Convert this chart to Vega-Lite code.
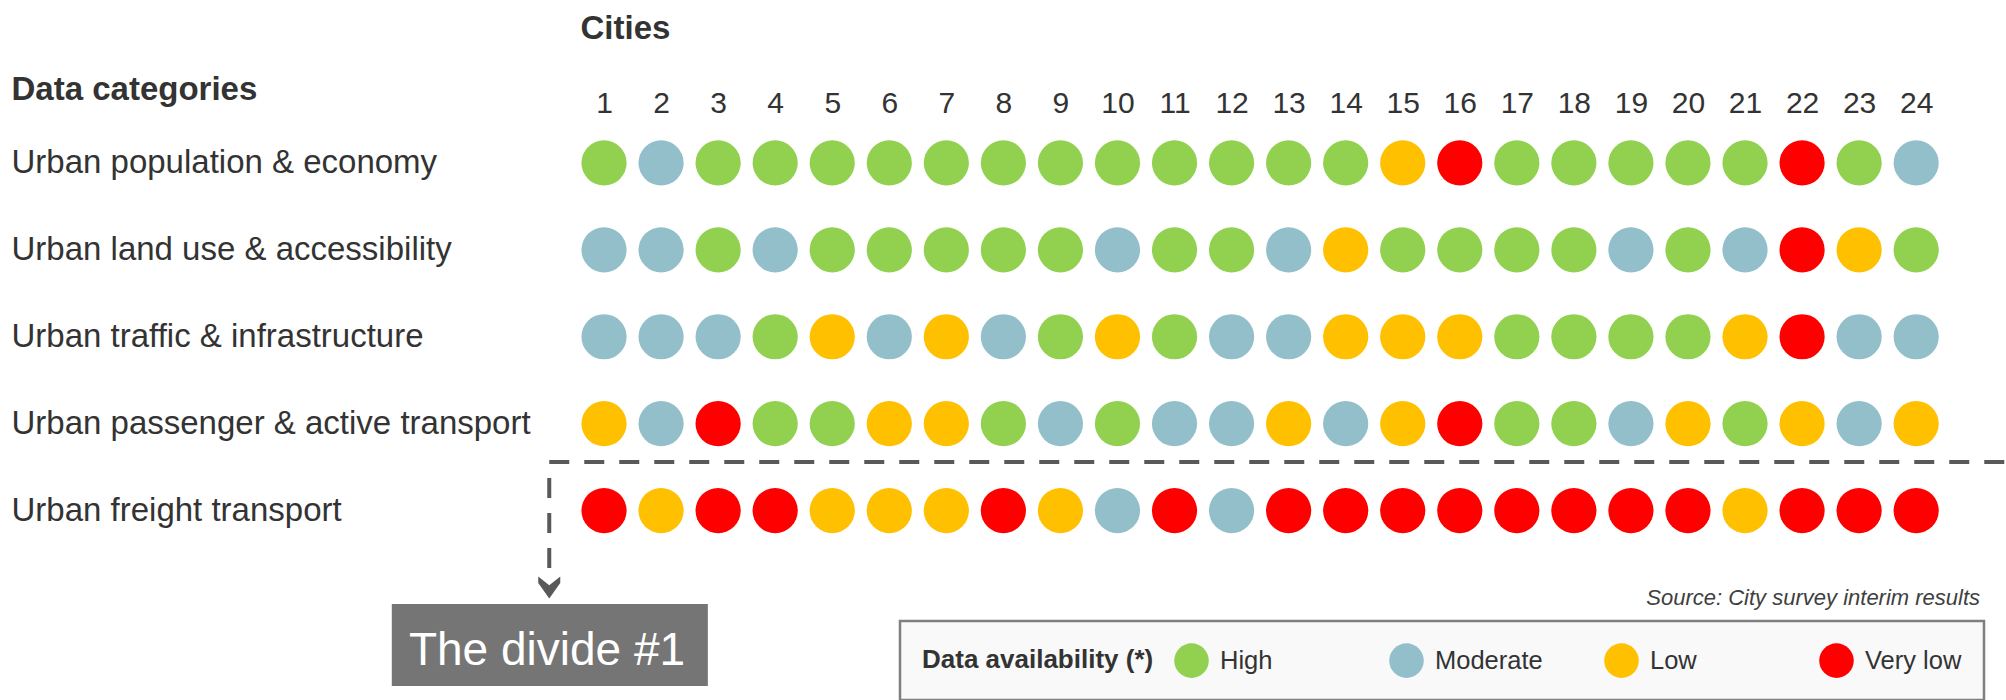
{
  "$schema": "https://vega.github.io/schema/vega-lite/v6.json",
  "autosize": {"type": "none"},
  "padding": {"left": 575.5, "top": 119.5, "right": 61.3, "bottom": 146},
  "width": 1369.2,
  "height": 434.5,
  "background": "#ffffff",
  "config": {
    "view": {"stroke": null},
    "font": "Liberation Sans, Arial, sans-serif"
  },
  "data": {"values": [
    {"category":"Urban population & economy","city":1,"availability":"High"},
    {"category":"Urban population & economy","city":2,"availability":"Moderate"},
    {"category":"Urban population & economy","city":3,"availability":"High"},
    {"category":"Urban population & economy","city":4,"availability":"High"},
    {"category":"Urban population & economy","city":5,"availability":"High"},
    {"category":"Urban population & economy","city":6,"availability":"High"},
    {"category":"Urban population & economy","city":7,"availability":"High"},
    {"category":"Urban population & economy","city":8,"availability":"High"},
    {"category":"Urban population & economy","city":9,"availability":"High"},
    {"category":"Urban population & economy","city":10,"availability":"High"},
    {"category":"Urban population & economy","city":11,"availability":"High"},
    {"category":"Urban population & economy","city":12,"availability":"High"},
    {"category":"Urban population & economy","city":13,"availability":"High"},
    {"category":"Urban population & economy","city":14,"availability":"High"},
    {"category":"Urban population & economy","city":15,"availability":"Low"},
    {"category":"Urban population & economy","city":16,"availability":"Very low"},
    {"category":"Urban population & economy","city":17,"availability":"High"},
    {"category":"Urban population & economy","city":18,"availability":"High"},
    {"category":"Urban population & economy","city":19,"availability":"High"},
    {"category":"Urban population & economy","city":20,"availability":"High"},
    {"category":"Urban population & economy","city":21,"availability":"High"},
    {"category":"Urban population & economy","city":22,"availability":"Very low"},
    {"category":"Urban population & economy","city":23,"availability":"High"},
    {"category":"Urban population & economy","city":24,"availability":"Moderate"},
    {"category":"Urban land use & accessibility","city":1,"availability":"Moderate"},
    {"category":"Urban land use & accessibility","city":2,"availability":"Moderate"},
    {"category":"Urban land use & accessibility","city":3,"availability":"High"},
    {"category":"Urban land use & accessibility","city":4,"availability":"Moderate"},
    {"category":"Urban land use & accessibility","city":5,"availability":"High"},
    {"category":"Urban land use & accessibility","city":6,"availability":"High"},
    {"category":"Urban land use & accessibility","city":7,"availability":"High"},
    {"category":"Urban land use & accessibility","city":8,"availability":"High"},
    {"category":"Urban land use & accessibility","city":9,"availability":"High"},
    {"category":"Urban land use & accessibility","city":10,"availability":"Moderate"},
    {"category":"Urban land use & accessibility","city":11,"availability":"High"},
    {"category":"Urban land use & accessibility","city":12,"availability":"High"},
    {"category":"Urban land use & accessibility","city":13,"availability":"Moderate"},
    {"category":"Urban land use & accessibility","city":14,"availability":"Low"},
    {"category":"Urban land use & accessibility","city":15,"availability":"High"},
    {"category":"Urban land use & accessibility","city":16,"availability":"High"},
    {"category":"Urban land use & accessibility","city":17,"availability":"High"},
    {"category":"Urban land use & accessibility","city":18,"availability":"High"},
    {"category":"Urban land use & accessibility","city":19,"availability":"Moderate"},
    {"category":"Urban land use & accessibility","city":20,"availability":"High"},
    {"category":"Urban land use & accessibility","city":21,"availability":"Moderate"},
    {"category":"Urban land use & accessibility","city":22,"availability":"Very low"},
    {"category":"Urban land use & accessibility","city":23,"availability":"Low"},
    {"category":"Urban land use & accessibility","city":24,"availability":"High"},
    {"category":"Urban traffic & infrastructure","city":1,"availability":"Moderate"},
    {"category":"Urban traffic & infrastructure","city":2,"availability":"Moderate"},
    {"category":"Urban traffic & infrastructure","city":3,"availability":"Moderate"},
    {"category":"Urban traffic & infrastructure","city":4,"availability":"High"},
    {"category":"Urban traffic & infrastructure","city":5,"availability":"Low"},
    {"category":"Urban traffic & infrastructure","city":6,"availability":"Moderate"},
    {"category":"Urban traffic & infrastructure","city":7,"availability":"Low"},
    {"category":"Urban traffic & infrastructure","city":8,"availability":"Moderate"},
    {"category":"Urban traffic & infrastructure","city":9,"availability":"High"},
    {"category":"Urban traffic & infrastructure","city":10,"availability":"Low"},
    {"category":"Urban traffic & infrastructure","city":11,"availability":"High"},
    {"category":"Urban traffic & infrastructure","city":12,"availability":"Moderate"},
    {"category":"Urban traffic & infrastructure","city":13,"availability":"Moderate"},
    {"category":"Urban traffic & infrastructure","city":14,"availability":"Low"},
    {"category":"Urban traffic & infrastructure","city":15,"availability":"Low"},
    {"category":"Urban traffic & infrastructure","city":16,"availability":"Low"},
    {"category":"Urban traffic & infrastructure","city":17,"availability":"High"},
    {"category":"Urban traffic & infrastructure","city":18,"availability":"High"},
    {"category":"Urban traffic & infrastructure","city":19,"availability":"High"},
    {"category":"Urban traffic & infrastructure","city":20,"availability":"High"},
    {"category":"Urban traffic & infrastructure","city":21,"availability":"Low"},
    {"category":"Urban traffic & infrastructure","city":22,"availability":"Very low"},
    {"category":"Urban traffic & infrastructure","city":23,"availability":"Moderate"},
    {"category":"Urban traffic & infrastructure","city":24,"availability":"Moderate"},
    {"category":"Urban passenger & active transport","city":1,"availability":"Low"},
    {"category":"Urban passenger & active transport","city":2,"availability":"Moderate"},
    {"category":"Urban passenger & active transport","city":3,"availability":"Very low"},
    {"category":"Urban passenger & active transport","city":4,"availability":"High"},
    {"category":"Urban passenger & active transport","city":5,"availability":"High"},
    {"category":"Urban passenger & active transport","city":6,"availability":"Low"},
    {"category":"Urban passenger & active transport","city":7,"availability":"Low"},
    {"category":"Urban passenger & active transport","city":8,"availability":"High"},
    {"category":"Urban passenger & active transport","city":9,"availability":"Moderate"},
    {"category":"Urban passenger & active transport","city":10,"availability":"High"},
    {"category":"Urban passenger & active transport","city":11,"availability":"Moderate"},
    {"category":"Urban passenger & active transport","city":12,"availability":"Moderate"},
    {"category":"Urban passenger & active transport","city":13,"availability":"Low"},
    {"category":"Urban passenger & active transport","city":14,"availability":"Moderate"},
    {"category":"Urban passenger & active transport","city":15,"availability":"Low"},
    {"category":"Urban passenger & active transport","city":16,"availability":"Very low"},
    {"category":"Urban passenger & active transport","city":17,"availability":"High"},
    {"category":"Urban passenger & active transport","city":18,"availability":"High"},
    {"category":"Urban passenger & active transport","city":19,"availability":"Moderate"},
    {"category":"Urban passenger & active transport","city":20,"availability":"Low"},
    {"category":"Urban passenger & active transport","city":21,"availability":"High"},
    {"category":"Urban passenger & active transport","city":22,"availability":"Low"},
    {"category":"Urban passenger & active transport","city":23,"availability":"Moderate"},
    {"category":"Urban passenger & active transport","city":24,"availability":"Low"},
    {"category":"Urban freight transport","city":1,"availability":"Very low"},
    {"category":"Urban freight transport","city":2,"availability":"Low"},
    {"category":"Urban freight transport","city":3,"availability":"Very low"},
    {"category":"Urban freight transport","city":4,"availability":"Very low"},
    {"category":"Urban freight transport","city":5,"availability":"Low"},
    {"category":"Urban freight transport","city":6,"availability":"Low"},
    {"category":"Urban freight transport","city":7,"availability":"Low"},
    {"category":"Urban freight transport","city":8,"availability":"Very low"},
    {"category":"Urban freight transport","city":9,"availability":"Low"},
    {"category":"Urban freight transport","city":10,"availability":"Moderate"},
    {"category":"Urban freight transport","city":11,"availability":"Very low"},
    {"category":"Urban freight transport","city":12,"availability":"Moderate"},
    {"category":"Urban freight transport","city":13,"availability":"Very low"},
    {"category":"Urban freight transport","city":14,"availability":"Very low"},
    {"category":"Urban freight transport","city":15,"availability":"Very low"},
    {"category":"Urban freight transport","city":16,"availability":"Very low"},
    {"category":"Urban freight transport","city":17,"availability":"Very low"},
    {"category":"Urban freight transport","city":18,"availability":"Very low"},
    {"category":"Urban freight transport","city":19,"availability":"Very low"},
    {"category":"Urban freight transport","city":20,"availability":"Very low"},
    {"category":"Urban freight transport","city":21,"availability":"Low"},
    {"category":"Urban freight transport","city":22,"availability":"Very low"},
    {"category":"Urban freight transport","city":23,"availability":"Very low"},
    {"category":"Urban freight transport","city":24,"availability":"Very low"}
  ]},
  "layer": [
    {
      "mark": {"type": "circle", "size": 2043, "opacity": 1},
      "encoding": {
        "x": {
          "field": "city", "type": "quantitative",
          "scale": {"domain": [0.5, 24.5], "nice": false, "zero": false},
          "axis": {
            "orient": "top",
            "values": [1,2,3,4,5,6,7,8,9,10,11,12,13,14,15,16,17,18,19,20,21,22,23,24],
            "format": "d",
            "ticks": false, "tickSize": 0, "domain": false, "grid": false,
            "labelFlush": false, "labelOverlap": false, "labelAngle": 0,
            "labelFontSize": 30, "labelColor": "#333333",
            "labelBaseline": "alphabetic", "labelPadding": 7,
            "title": "Cities",
            "titleX": 4.5, "titleY": -81.2,
            "titleAlign": "left", "titleBaseline": "alphabetic", "titleAngle": 0,
            "titleFontSize": 33, "titleFontWeight": "bold", "titleColor": "#333333"
          }
        },
        "y": {
          "field": "category", "type": "nominal", "sort": null,
          "scale": {
            "type": "band", "paddingInner": 0, "paddingOuter": 0,
            "domain": ["Urban population & economy", "Urban land use & accessibility", "Urban traffic & infrastructure", "Urban passenger & active transport", "Urban freight transport"]
          },
          "axis": {
            "orient": "left",
            "ticks": false, "tickSize": 0, "domain": false, "grid": false,
            "labelAlign": "left", "labelPadding": 564.5, "labelLimit": 700,
            "labelFontSize": 33, "labelColor": "#333333", "labelBaseline": "middle",
            "title": "Data categories",
            "titleX": -564.5, "titleY": -20.5, "titleAngle": 0,
            "titleAlign": "left", "titleBaseline": "alphabetic",
            "titleFontSize": 33, "titleFontWeight": "bold", "titleColor": "#333333",
            "encode": {"labels": {"update": {"dy": {"signal": "datum.value === 'Urban population & economy' ? -7 : datum.value === 'Urban land use & accessibility' ? -4 : datum.value === 'Urban traffic & infrastructure' ? 6 : datum.value === 'Urban passenger & active transport' ? 13 : 5"}}}}
          }
        },
        "color": {
          "field": "availability", "type": "nominal",
          "scale": {"domain": ["High", "Moderate", "Low", "Very low"], "range": ["#92D050", "#93BFCB", "#FFC000", "#FF0000"]},
          "legend": {
            "title": "Data availability (*)",
            "orient": "none", "legendX": 324.5, "legendY": 501.5,
            "direction": "horizontal", "titleOrient": "left",
            "gridAlign": "all", "columnPadding": 61,
            "symbolType": "circle", "symbolSize": 1195, "symbolStrokeWidth": 0, "symbolOpacity": 1,
            "labelFontSize": 25.5, "labelColor": "#333333", "labelOffset": 11, "labelLimit": 300,
            "titleFontSize": 26, "titleFontWeight": "bold", "titleColor": "#333333",
            "titlePadding": 20, "titleLimit": 400,
            "padding": 22, "strokeColor": "#7f7f7f", "fillColor": "#f9f9f9",
            "encode": {"legend": {"update": {"strokeWidth": {"value": 2.5}}}}
          }
        }
      }
    },
    {
      "data": {"values": [{"divide": "The divide #1"}]},
      "mark": {"type": "rule", "color": "#595959", "strokeWidth": 4, "strokeDash": [20, 15], "yOffset": -5},
      "encoding": {
        "x": {"datum": 0.04, "type": "quantitative"},
        "x2": {"datum": 25.6},
        "y": {"datum": "Urban freight transport", "type": "nominal", "bandPosition": 0}
      }
    },
    {
      "data": {"values": [{"divide": "The divide #1"}]},
      "mark": {"type": "rule", "color": "#595959", "strokeWidth": 4, "strokeDash": [20, 15], "yOffset": 11},
      "encoding": {
        "x": {"datum": 0.04, "type": "quantitative"},
        "y": {"datum": "Urban freight transport", "type": "nominal", "bandPosition": 0},
        "y2": {"value": 448.5}
      }
    },
    {
      "data": {"values": [{"divide": "The divide #1"}]},
      "mark": {"type": "point", "filled": true, "opacity": 1, "color": "#595959", "size": 484, "shape": "M-1,-1L0,-0.2L1,-1L1,-0.4L0,1L-1,-0.4Z"},
      "encoding": {
        "x": {"datum": 0.04, "type": "quantitative"},
        "y": {"value": 468}
      }
    },
    {
      "data": {"values": [{"divide": "The divide #1"}]},
      "mark": {"type": "rect", "color": "#757575"},
      "encoding": {
        "x": {"datum": -2.72, "type": "quantitative"},
        "x2": {"datum": 2.82},
        "y": {"value": 484.5},
        "y2": {"value": 566.5}
      }
    },
    {
      "data": {"values": [{"divide": "The divide #1"}]},
      "mark": {"type": "text", "color": "#ffffff", "fontSize": 46, "align": "center", "baseline": "alphabetic"},
      "encoding": {
        "x": {"datum": 0, "type": "quantitative"},
        "y": {"value": 545.5},
        "text": {"field": "divide"}
      }
    },
    {
      "data": {"values": [{"source": "Source: City survey interim results"}]},
      "mark": {"type": "text", "color": "#404040", "fontSize": 22, "fontStyle": "italic", "align": "right", "baseline": "alphabetic"},
      "encoding": {
        "x": {"datum": 25.12, "type": "quantitative"},
        "y": {"value": 485.5},
        "text": {"field": "source"}
      }
    }
  ]
}
